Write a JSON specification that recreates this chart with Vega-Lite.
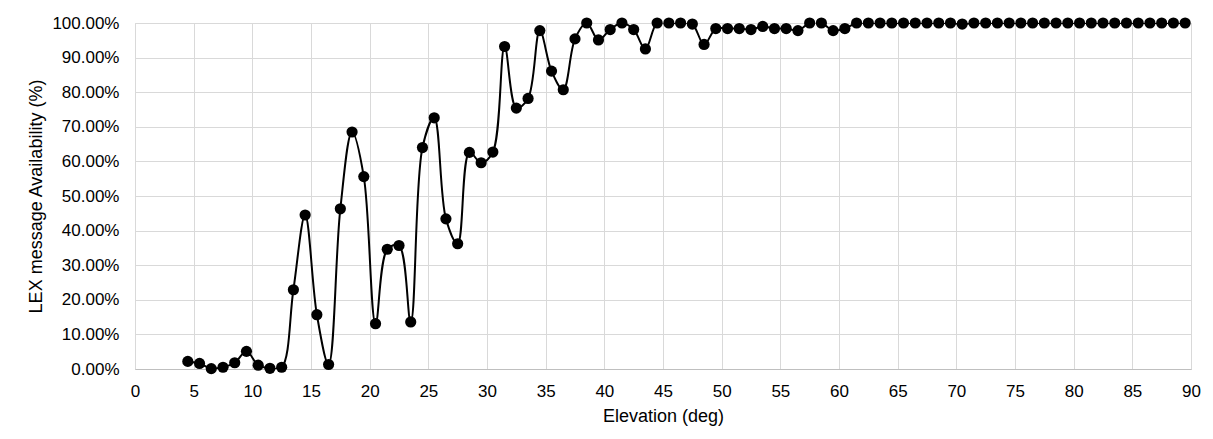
{
  "$schema": "https://vega.github.io/schema/vega-lite/v6.json",
  "autosize": "none",
  "width": 1056,
  "height": 346,
  "padding": {"left": 135, "top": 23, "right": 22, "bottom": 70},
  "background": "white",
  "config": {
    "font": "Liberation Sans",
    "view": {"stroke": "#d9d9d9", "strokeWidth": 1},
    "axis": {"gridColor": "#d9d9d9", "gridWidth": 1, "labelColor": "#000000", "titleColor": "#000000", "labelFont": "Liberation Sans", "titleFont": "Liberation Sans", "titleFontWeight": "normal"}
  },
  "data": {
    "values": [
      {"elevation": 4.5, "availability": 0.022},
      {"elevation": 5.5, "availability": 0.016},
      {"elevation": 6.5, "availability": 0.001},
      {"elevation": 7.5, "availability": 0.005},
      {"elevation": 8.5, "availability": 0.018},
      {"elevation": 9.5, "availability": 0.051},
      {"elevation": 10.5, "availability": 0.011},
      {"elevation": 11.5, "availability": 0.002},
      {"elevation": 12.5, "availability": 0.005},
      {"elevation": 13.5, "availability": 0.229},
      {"elevation": 14.5, "availability": 0.445},
      {"elevation": 15.5, "availability": 0.157},
      {"elevation": 16.5, "availability": 0.013},
      {"elevation": 17.5, "availability": 0.463},
      {"elevation": 18.5, "availability": 0.685},
      {"elevation": 19.5, "availability": 0.556},
      {"elevation": 20.5, "availability": 0.131},
      {"elevation": 21.5, "availability": 0.346},
      {"elevation": 22.5, "availability": 0.357},
      {"elevation": 23.5, "availability": 0.136},
      {"elevation": 24.5, "availability": 0.640},
      {"elevation": 25.5, "availability": 0.726},
      {"elevation": 26.5, "availability": 0.434},
      {"elevation": 27.5, "availability": 0.362},
      {"elevation": 28.5, "availability": 0.626},
      {"elevation": 29.5, "availability": 0.596},
      {"elevation": 30.5, "availability": 0.627},
      {"elevation": 31.5, "availability": 0.932},
      {"elevation": 32.5, "availability": 0.754},
      {"elevation": 33.5, "availability": 0.782},
      {"elevation": 34.5, "availability": 0.978},
      {"elevation": 35.5, "availability": 0.861},
      {"elevation": 36.5, "availability": 0.807},
      {"elevation": 37.5, "availability": 0.954},
      {"elevation": 38.5, "availability": 1.0},
      {"elevation": 39.5, "availability": 0.951},
      {"elevation": 40.5, "availability": 0.981},
      {"elevation": 41.5, "availability": 1.0},
      {"elevation": 42.5, "availability": 0.981},
      {"elevation": 43.5, "availability": 0.925},
      {"elevation": 44.5, "availability": 1.0},
      {"elevation": 45.5, "availability": 1.0},
      {"elevation": 46.5, "availability": 1.0},
      {"elevation": 47.5, "availability": 0.997},
      {"elevation": 48.5, "availability": 0.938},
      {"elevation": 49.5, "availability": 0.984},
      {"elevation": 50.5, "availability": 0.984},
      {"elevation": 51.5, "availability": 0.984},
      {"elevation": 52.5, "availability": 0.981},
      {"elevation": 53.5, "availability": 0.990},
      {"elevation": 54.5, "availability": 0.984},
      {"elevation": 55.5, "availability": 0.984},
      {"elevation": 56.5, "availability": 0.978},
      {"elevation": 57.5, "availability": 1.0},
      {"elevation": 58.5, "availability": 1.0},
      {"elevation": 59.5, "availability": 0.978},
      {"elevation": 60.5, "availability": 0.984},
      {"elevation": 61.5, "availability": 1.0},
      {"elevation": 62.5, "availability": 1.0},
      {"elevation": 63.5, "availability": 1.0},
      {"elevation": 64.5, "availability": 1.0},
      {"elevation": 65.5, "availability": 1.0},
      {"elevation": 66.5, "availability": 1.0},
      {"elevation": 67.5, "availability": 1.0},
      {"elevation": 68.5, "availability": 1.0},
      {"elevation": 69.5, "availability": 1.0},
      {"elevation": 70.5, "availability": 0.997},
      {"elevation": 71.5, "availability": 1.0},
      {"elevation": 72.5, "availability": 1.0},
      {"elevation": 73.5, "availability": 1.0},
      {"elevation": 74.5, "availability": 1.0},
      {"elevation": 75.5, "availability": 1.0},
      {"elevation": 76.5, "availability": 1.0},
      {"elevation": 77.5, "availability": 1.0},
      {"elevation": 78.5, "availability": 1.0},
      {"elevation": 79.5, "availability": 1.0},
      {"elevation": 80.5, "availability": 1.0},
      {"elevation": 81.5, "availability": 1.0},
      {"elevation": 82.5, "availability": 1.0},
      {"elevation": 83.5, "availability": 1.0},
      {"elevation": 84.5, "availability": 1.0},
      {"elevation": 85.5, "availability": 1.0},
      {"elevation": 86.5, "availability": 1.0},
      {"elevation": 87.5, "availability": 1.0},
      {"elevation": 88.5, "availability": 1.0},
      {"elevation": 89.5, "availability": 1.0}
    ]
  },
  "encoding": {
    "x": {
      "field": "elevation",
      "type": "quantitative",
      "scale": {"domain": [0, 90], "nice": false, "zero": false},
      "axis": {
        "title": "Elevation (deg)",
        "values": [0, 5, 10, 15, 20, 25, 30, 35, 40, 45, 50, 55, 60, 65, 70, 75, 80, 85, 90],
        "ticks": false,
        "tickSize": 0,
        "labelPadding": 14,
        "labelFontSize": 17,
        "titleFontSize": 18,
        "titlePadding": 8,
        "domainColor": "#bfbfbf",
        "domainWidth": 1,
        "labelFlush": false,
        "labelOverlap": false
      }
    },
    "y": {
      "field": "availability",
      "type": "quantitative",
      "scale": {"domain": [0, 1], "nice": false},
      "axis": {
        "title": "LEX message Availability (%)",
        "format": ".2%",
        "values": [0, 0.1, 0.2, 0.3, 0.4, 0.5, 0.6, 0.7, 0.8, 0.9, 1.0],
        "ticks": false,
        "tickSize": 0,
        "domain": false,
        "labelPadding": 16,
        "labelFontSize": 17,
        "titleFontSize": 18,
        "titlePadding": 6,
        "labelFlush": false,
        "labelOverlap": false
      }
    }
  },
  "layer": [
    {
      "mark": {"type": "line", "interpolate": "catmull-rom", "color": "#000000", "strokeWidth": 2, "clip": true}
    },
    {
      "mark": {"type": "point", "filled": true, "shape": "circle", "size": 125, "color": "#000000", "opacity": 1}
    }
  ]
}
